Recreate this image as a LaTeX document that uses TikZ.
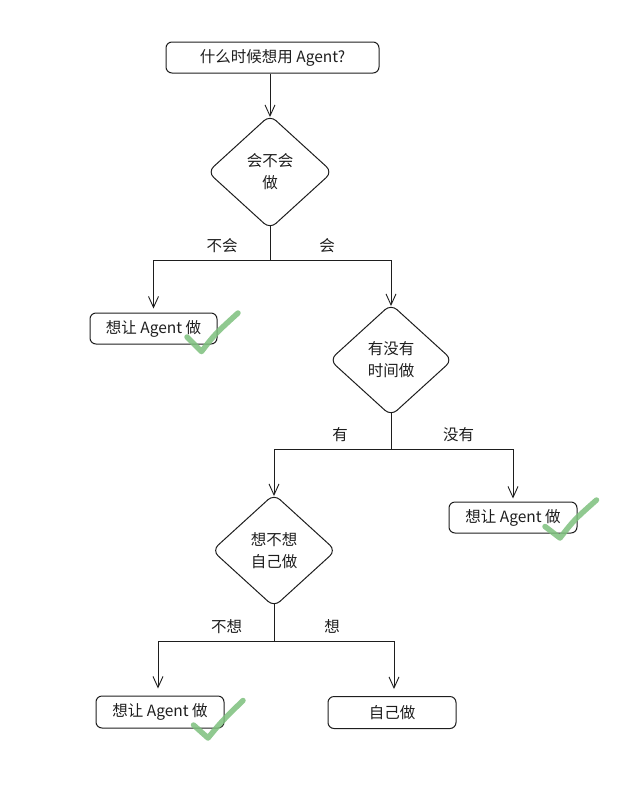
\documentclass[tikz,border=0pt]{standalone}
\usepackage{fontspec}
\setmainfont{Noto Sans CJK SC}
\usetikzlibrary{shapes.geometric,arrows.meta}
\definecolor{ink}{HTML}{1E1E1E}
\definecolor{okgreen}{RGB}{125,192,125}
\begin{document}
\begin{tikzpicture}[x=1pt,y=-1pt,
  every node/.style={font=\fontsize{15.5}{22}\selectfont, text=ink},
  boxnode/.style={draw=ink, line width=1pt, rounded corners=6pt, minimum height=31pt, inner sep=0pt},
  decision/.style={diamond, draw=ink, line width=1pt, rounded corners=8pt, inner sep=0pt, align=center},
  link/.style={draw=ink, line width=0.9pt},
  arr/.style={link, -{Straight Barb[length=11pt,width=10pt,line width=0.9pt]}},
  lbl/.style={inner sep=0pt},
  tick/.style={draw=okgreen, line width=5.5pt, line cap=round, line join=round, opacity=0.85}
]
\useasboundingbox (0,0) rectangle (640,793);

\node[boxnode, minimum width=213pt] (start) at (272.5,57.5) {什么时候想用 Agent?};
\node[decision, minimum width=125pt, minimum height=114pt] (d1) at (270,172) {会不会\\做};
\node[boxnode, minimum width=127pt] (b1) at (153.5,328.5) {想让 Agent 做};
\node[decision, minimum width=123pt, minimum height=112pt] (d2) at (391,360) {有没有\\时间做};
\node[boxnode, minimum width=128pt] (b2) at (513,517.5) {想让 Agent 做};
\node[decision, minimum width=124pt, minimum height=113pt] (d3) at (274,550.5) {想不想\\自己做};
\node[boxnode, minimum width=128pt, minimum height=32pt] (b3) at (160,712) {想让 Agent 做};
\node[boxnode, minimum width=128pt, minimum height=32pt] (b4) at (392,712.5) {自己做};

\coordinate (j1) at (270,260);
\coordinate (j2) at (391,449);
\coordinate (j3) at (274,641);

\draw[arr, shorten >=-2.5pt] (start.south -| d1.north) -- (d1.north);
\draw[link, shorten <=-3.3pt] (d1.south) -- (j1);
\draw[arr, shorten >=4pt] (j1) -| (b1.north);
\draw[arr, shorten >=-2.5pt] (j1) -| (d2.north);
\draw[link, shorten <=-3.3pt] (d2.south) -- (j2);
\draw[arr, shorten >=-2.5pt] (j2) -| (d3.north);
\draw[arr, shorten >=3pt] (j2) -| (b2.north);
\draw[link, shorten <=-3.3pt] (d3.south) -- (j3);
\draw[arr, shorten >=7pt] (j3) -| ([xshift=-2pt]b3.north);
\draw[arr, shorten >=7pt] (j3) -| ([xshift=2pt]b4.north);

\node[lbl] (l1) at (222,246) {不会};
\node[lbl] (l2) at (327,246) {会};
\node[lbl] (l3) at (340,435) {有};
\node[lbl] (l4) at (458.5,435) {没有};
\node[lbl] (l5) at (226.5,626.5) {不想};
\node[lbl] (l6) at (332,626.5) {想};

\draw[tick] (187,337) .. controls (194,344) .. (201.5,351.5) .. controls (215,334) .. (238,313);
\draw[tick] (545,526.5) .. controls (552,532) .. (560,538) .. controls (574,520) .. (596.5,500);
\draw[tick] (193.5,725) .. controls (200,731) .. (208,738) .. controls (222,721) .. (243,700.5);
\end{tikzpicture}
\end{document}
